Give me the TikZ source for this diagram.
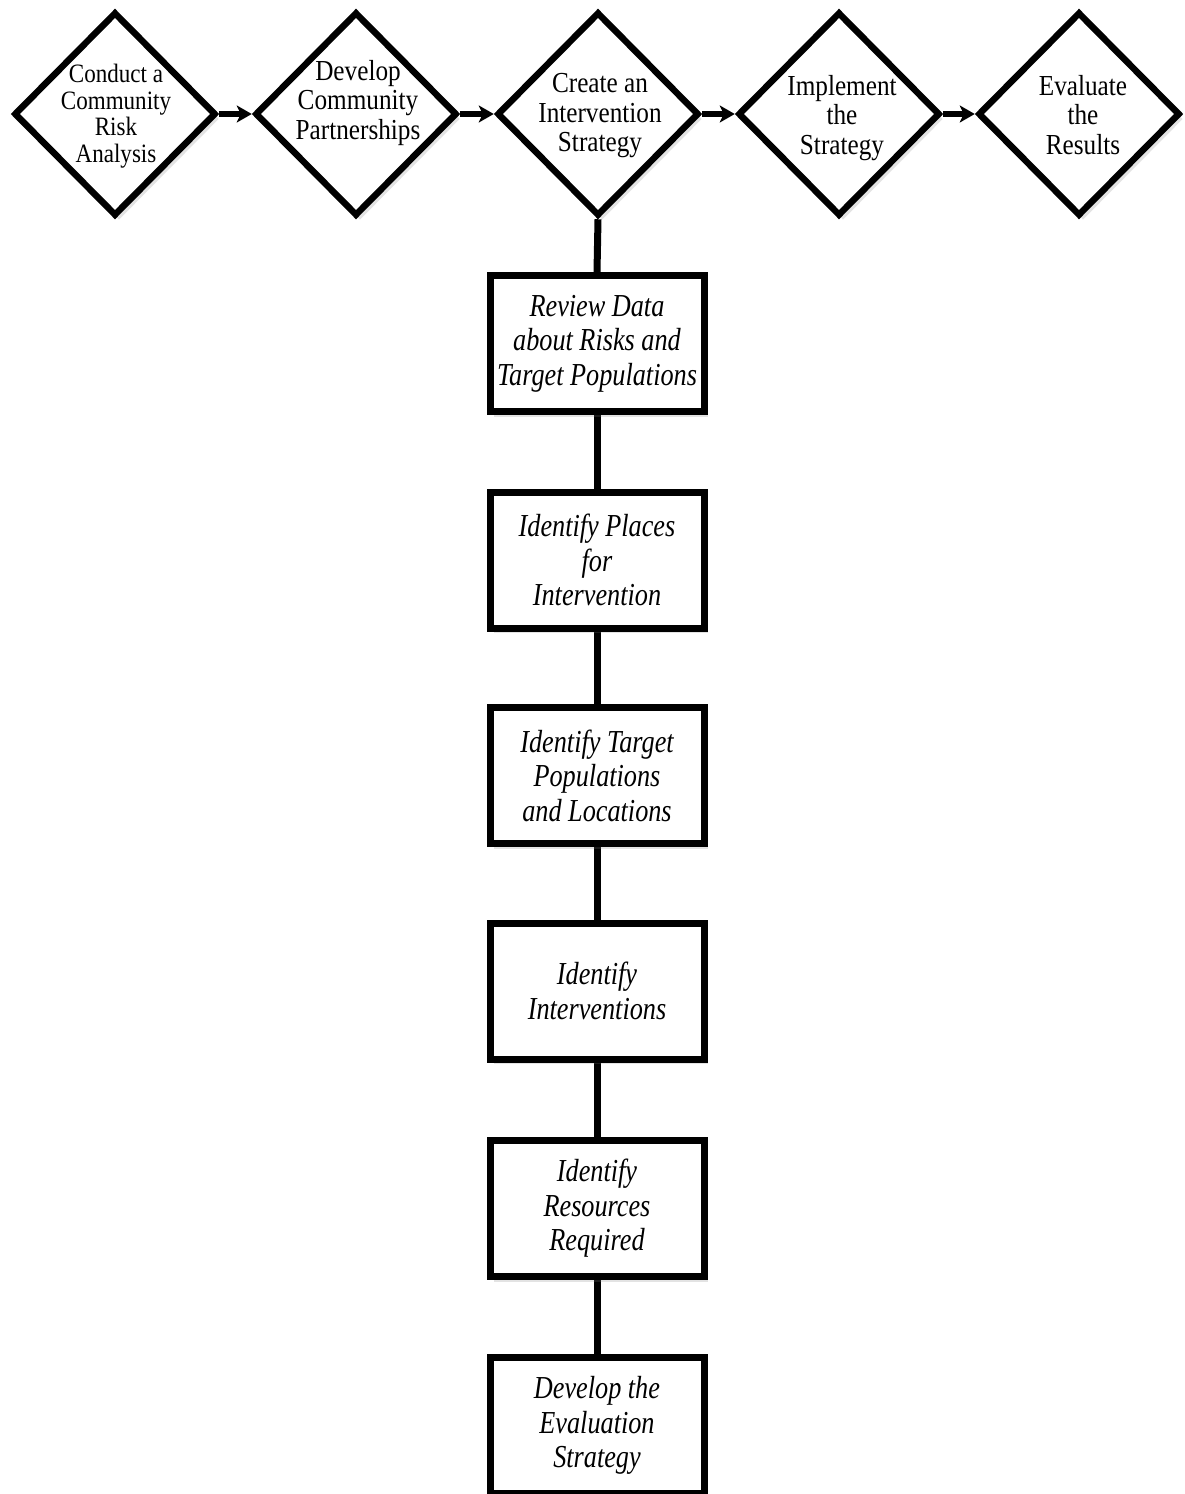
\documentclass[tikz,border=0pt]{standalone}
\usepackage{fontspec}
\setmainfont{Liberation Serif}
\newfontfamily\boxfont{Liberation Serif}[FakeStretch=0.82]
\newfontfamily\diafont{Liberation Serif}[FakeStretch=0.87]
\usetikzlibrary{shapes.geometric,arrows.meta,shadows,backgrounds}
\begin{document}
\begin{tikzpicture}[x=1pt,y=-1pt,
  softshadow/.style={drop shadow={opacity=0.22,shadow xshift=4pt,shadow yshift=-5pt}},
  dshape/.style={diamond, draw=black, line width=6.5pt, line join=miter, fill=white,
    minimum width=202pt, minimum height=204pt, inner sep=0pt, softshadow},
  dtext/.style={align=center, inner sep=0pt, font=\diafont\fontsize{29}{29.5}\selectfont},
  dtextb/.style={dtext, font=\diafont\fontsize{26.5}{26.5}\selectfont},
  stepbox/.style={rectangle, draw=black, line width=7pt, fill=white,
    minimum width=214pt, minimum height=136pt, inner sep=2pt, align=center,
    font=\boxfont\fontsize{32}{34.5}\selectfont\itshape, softshadow},
  flow/.style={line width=5.5pt, -{Stealth[length=15pt,width=17pt,inset=4pt]}},
  link/.style={line width=7pt}]
\useasboundingbox (0,0) rectangle (1184,1494);
% diamonds
\node[dshape] (d1) at (115,114) {};
\node[dshape] (d2) at (356,114) {};
\node[dshape] (d3) at (598,114) {};
\node[dshape] (d4) at (839,114) {};
\node[dshape] (d5) at (1079,114) {};
\node[dtextb] (t1) at (116,116) {Conduct a\\Community\\Risk\\Analysis};
\node[dtext] (t2) at (358,103) {Develop\\Community\\Partnerships};
\node[dtext] (t3) at (600,116) {Create an\\Intervention\\Strategy};
\node[dtext] (t4) at (842,118) {Implement\\the\\Strategy};
\node[dtext] (t5) at (1083,115) {Evaluate\\the\\Results};
% boxes
\node[stepbox] (b1) at (597,343.5) {Review Data\\about Risks and\\Target Populations};
\node[stepbox] (b2) at (597,560) {Identify Places\\for\\Intervention};
\node[stepbox] (b3) at (597,775.5) {Identify Target\\Populations\\and Locations};
\node[stepbox] (b4) at (597,991) {Identify\\Interventions};
\node[stepbox] (b5) at (597,1208.5) {Identify\\Resources\\Required};
\node[stepbox] (b6) at (597,1425.5) {Develop the\\Evaluation\\Strategy};
% connectors
\draw[flow] (d1.east) -- (d2.west);
\draw[flow] (d2.east) -- (d3.west);
\draw[flow] (d3.east) -- (d4.west);
\draw[flow] (d4.east) -- (d5.west);
\begin{scope}[on background layer]
\draw[link] (d3.south) -- (b1.north);
\draw[link] (b1.south) -- (b2.north);
\draw[link] (b2.south) -- (b3.north);
\draw[link] (b3.south) -- (b4.north);
\draw[link] (b4.south) -- (b5.north);
\draw[link] (b5.south) -- (b6.north);
\end{scope}
\end{tikzpicture}
\end{document}
